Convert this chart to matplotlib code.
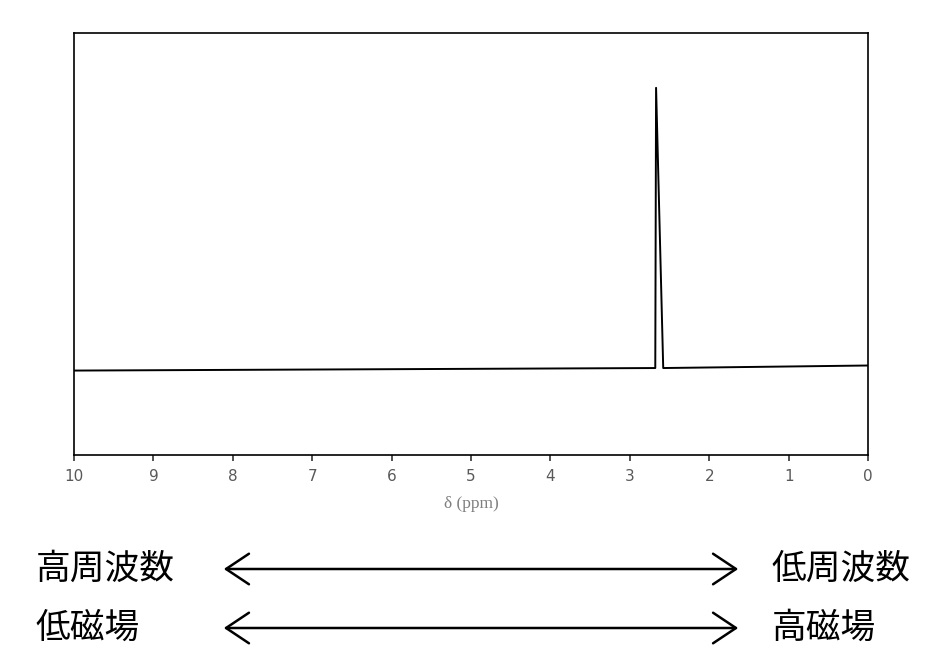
import matplotlib
matplotlib.use("Agg")
import matplotlib.pyplot as plt

# spectrum trace (ppm, arbitrary intensity)
shift = [10.0, 2.68, 2.67, 2.58, 0.0]
intensity = [0.200, 0.206, 0.870, 0.206, 0.212]

xticks = [10, 9, 8, 7, 6, 5, 4, 3, 2, 1, 0]
xlabel = "δ (ppm)"

# direction annotations: (left, right)
rows = [("高周波数", "低周波数"), ("低磁場", "高磁場")]

fig = plt.figure(figsize=(9.48, 6.59), dpi=100)
ax = fig.add_axes([0.0781, 0.3096, 0.8376, 0.6404])

ax.plot(shift, intensity, color="black", lw=1.4)
ax.set_xlim(10, 0)
ax.set_ylim(0, 1)
ax.set_yticks([])
ax.set_xticks(xticks)
ax.tick_params(axis="x", direction="out", length=4, width=1.2, color="#333333",
               labelsize=11, labelcolor="#595959", pad=6)
for s in ax.spines.values():
    s.set_linewidth(1.2)
    s.set_color("black")
ax.set_xlabel(xlabel, family="Liberation Serif", fontsize=12.5, color="#7f7f7f", labelpad=9)

cjk = ["Noto Sans CJK JP", "DejaVu Sans"]
row_y = [1 - 569 / 659, 1 - 628 / 659]
for (left, right), y in zip(rows, row_y):
    fig.text(36 / 948, y, left, family=cjk, fontsize=25, va="center", ha="left")
    fig.text(772 / 948, y, right, family=cjk, fontsize=25, va="center", ha="left")
    fig.add_artist(matplotlib.patches.FancyArrowPatch(
        (221 / 948, y), (741 / 948, y), transform=fig.transFigure,
        arrowstyle="<->,head_length=0.75,head_width=0.5",
        mutation_scale=22, lw=1.8, color="black"))

fig.savefig("out.png", dpi=100)
